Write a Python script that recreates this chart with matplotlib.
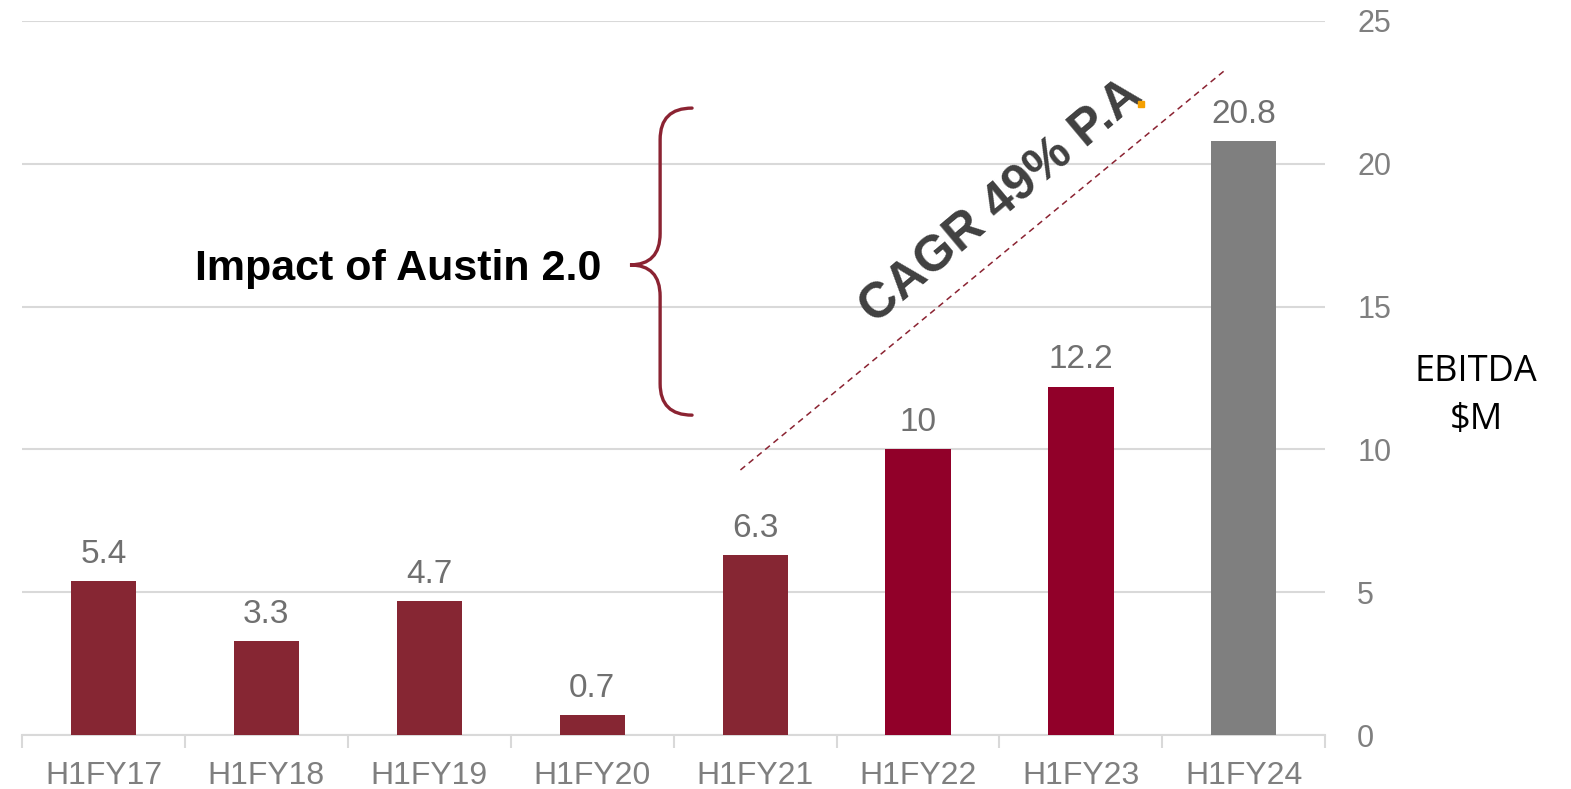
import matplotlib
matplotlib.use("Agg")
import matplotlib.pyplot as plt
from matplotlib.path import Path
from matplotlib.patches import PathPatch

periods = ["H1FY17", "H1FY18", "H1FY19", "H1FY20", "H1FY21", "H1FY22", "H1FY23", "H1FY24"]
ebitda = [5.4, 3.3, 4.7, 0.7, 6.3, 10, 12.2, 20.8]
bar_colors = ["#862633"] * 5 + ["#910029"] * 2 + ["#7f7f7f"]
y_ticks = [0, 5, 10, 15, 20, 25]

plt.rcParams["font.family"] = ["Liberation Sans", "DejaVu Sans"]

fig = plt.figure(figsize=(15.71, 7.89), dpi=100)
ax = fig.add_axes([0.014, 0.0684, 0.8296, 0.905])

x = list(range(len(periods)))
ax.bar(x, ebitda, width=0.4, color=bar_colors, zorder=3)

for xi, v in zip(x, ebitda):
    ax.annotate(f"{v:g}", (xi, v), xytext=(0, 8), textcoords="offset points",
                ha="center", va="bottom", fontsize=24, color="#707070")

ax.set_xlim(-0.5, len(periods) - 0.5)
ax.set_ylim(0, 25)
ax.set_yticks(y_ticks)
ax.yaxis.tick_right()
ax.tick_params(axis="y", length=0, pad=23, labelsize=22, labelcolor="#7f7f7f")
ax.set_xticks(x)
ax.set_xticklabels(periods)
ax.set_xticks([i - 0.5 for i in range(len(periods) + 1)], minor=True)
ax.tick_params(axis="x", which="major", length=0, pad=19, labelsize=23, labelcolor="#7f7f7f")
ax.tick_params(axis="x", which="minor", length=9, width=1.5, color="#d9d9d9")
ax.grid(axis="y", color="#d9d9d9", linewidth=1.5, zorder=0)
for side in ["left", "right", "top"]:
    ax.spines[side].set_visible(False)
ax.spines["bottom"].set_color("#d9d9d9")
ax.spines["bottom"].set_linewidth(1.5)

# growth trend line and label
ax.plot([3.91, 6.885], [9.28, 23.28], linestyle=(0, (4, 3)), color="#8b2332",
        linewidth=1.1, zorder=4)
ax.text(5.51, 18.65, "CAGR 49% P.A", rotation=40, rotation_mode="anchor",
        ha="center", va="center", fontsize=36, fontweight="bold", color="#404040")
ax.plot([6.37], [22.1], marker="s", markersize=4, color="#f5a000", zorder=5)

# curly brace next to the Austin 2.0 note
bx, tip, end = 3.417, 3.232, 3.613
top, mid, bot = 21.95, 16.46, 11.2
ry = 1.1
verts = [
    (end, top), (bx, top), (bx, top - ry),
    (bx, mid + ry), (bx, mid), (tip, mid),
    (bx, mid), (bx, mid - ry),
    (bx, bot + ry), (bx, bot), (end, bot),
]
codes = [
    Path.MOVETO, Path.CURVE3, Path.CURVE3,
    Path.LINETO, Path.CURVE3, Path.CURVE3,
    Path.CURVE3, Path.CURVE3,
    Path.LINETO, Path.CURVE3, Path.CURVE3,
]
ax.add_patch(PathPatch(Path(verts, codes), fill=False, edgecolor="#8b2332",
                       linewidth=2.4, capstyle="round", zorder=4))
ax.text(1.81, 16.3, "Impact of Austin 2.0", ha="center", va="center",
        fontsize=31, fontweight="bold", color="#000000")

fig.text(0.9395, 0.498, "EBITDA\n$M", ha="center", va="center", fontsize=26,
         family=["Open Sans", "DejaVu Sans"], color="#000000", linespacing=1.45)

fig.savefig("out.png", dpi=100)
